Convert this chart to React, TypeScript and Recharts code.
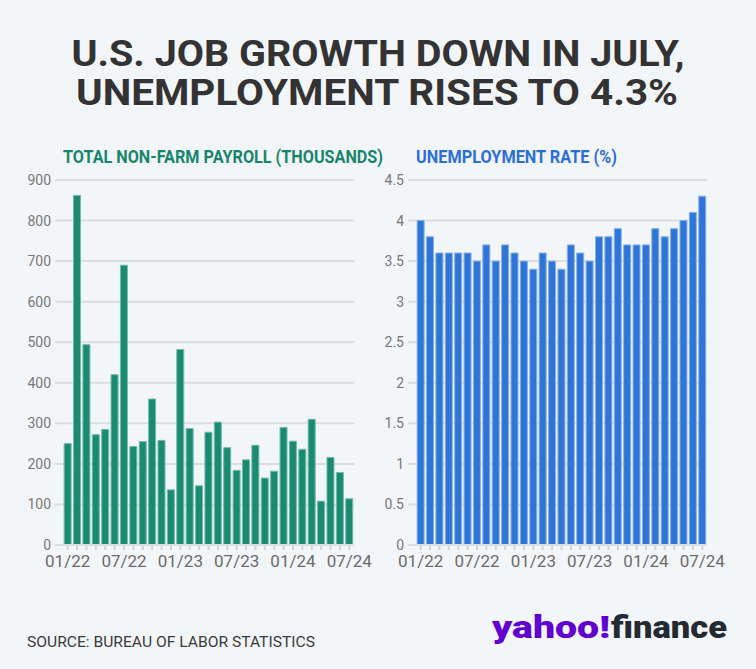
import { BarChart, Bar, XAxis, YAxis, CartesianGrid } from 'recharts'

const months = [
  '01/22', '02/22', '03/22', '04/22', '05/22', '06/22', '07/22', '08/22', '09/22', '10/22', '11/22', '12/22',
  '01/23', '02/23', '03/23', '04/23', '05/23', '06/23', '07/23', '08/23', '09/23', '10/23', '11/23', '12/23',
  '01/24', '02/24', '03/24', '04/24', '05/24', '06/24', '07/24',
]
const payroll = [
  250, 862, 494, 272, 285, 420, 690, 243, 255, 360, 258, 136,
  482, 287, 146, 278, 303, 240, 184, 210, 246, 165, 182, 290,
  256, 236, 310, 108, 216, 179, 114,
]
const unemployment = [
  4.0, 3.8, 3.6, 3.6, 3.6, 3.6, 3.5, 3.7, 3.5, 3.7, 3.6, 3.5,
  3.4, 3.6, 3.5, 3.4, 3.7, 3.6, 3.5, 3.8, 3.8, 3.9, 3.7, 3.7,
  3.7, 3.9, 3.8, 3.9, 4.0, 4.1, 4.3,
]
const xLabels = ['01/22', '07/22', '01/23', '07/23', '01/24', '07/24']
const payrollTicks = [0, 100, 200, 300, 400, 500, 600, 700, 800, 900]
const rateTicks = [0, 0.5, 1, 1.5, 2, 2.5, 3, 3.5, 4, 4.5]

const payrollData = months.map((m, i) => ({ m, v: payroll[i] }))
const rateData = months.map((m, i) => ({ m, v: unemployment[i] }))

const font = 'Roboto, "Liberation Sans", sans-serif'

function MonthTick(props: any) {
  const { x, y, payload } = props
  if (!xLabels.includes(payload.value)) return null
  return (
    <text x={x} y={y + 15} textAnchor="middle" fontFamily={font} fontSize={17} fill="#6b6b6b">
      {payload.value}
    </text>
  )
}

function Panel({ data, ticks, domain, fill, stroke }: any) {
  return (
    <BarChart
      width={390}
      height={405}
      data={data}
      margin={{ top: 10, right: 36, bottom: 0, left: 0 }}
      barCategoryGap="12%"
    >
      <CartesianGrid vertical={false} stroke="#dddddd" strokeWidth={2} />
      <XAxis
        dataKey="m"
        interval={0}
        height={30}
        tickSize={5}
        axisLine={{ stroke: '#dddddd', strokeWidth: 2 }}
        tickLine={{ stroke: '#d4d4d4', strokeWidth: 2 }}
        tick={<MonthTick />}
      />
      <YAxis
        width={63}
        domain={domain}
        ticks={ticks}
        interval={0}
        axisLine={false}
        tickSize={8}
        tickMargin={4}
        tickLine={{ stroke: '#dddddd', strokeWidth: 2 }}
        tick={{ fill: '#777777', fontSize: 14, fontFamily: font }}
      />
      <Bar dataKey="v" fill={fill} stroke={stroke} strokeWidth={1} isAnimationActive={false} />
    </BarChart>
  )
}

export default function App() {
  return (
    <div style={{ position: 'absolute', left: 0, top: 0, width: 756, height: 669, background: '#f3f6f9', overflow: 'hidden' }}>
      <svg width={756} height={669} style={{ position: 'absolute', left: 0, top: 0 }}>
        <text x={378} y={66} textAnchor="middle" fontFamily={font} fontWeight={700} fontSize={36} fill="#333333"
          textLength={613} lengthAdjust="spacingAndGlyphs">U.S. JOB GROWTH DOWN IN JULY,</text>
        <text x={377} y={105} textAnchor="middle" fontFamily={font} fontWeight={700} fontSize={36} fill="#333333"
          textLength={602} lengthAdjust="spacingAndGlyphs">UNEMPLOYMENT RISES TO 4.3%</text>
        <text x={63} y={163} fontFamily={font} fontWeight={700} fontSize={19} fill="#17856c"
          textLength={320} lengthAdjust="spacingAndGlyphs">TOTAL NON-FARM PAYROLL (THOUSANDS)</text>
        <text x={416} y={163} fontFamily={font} fontWeight={700} fontSize={19} fill="#2b6fd6"
          textLength={201} lengthAdjust="spacingAndGlyphs">UNEMPLOYMENT RATE (%)</text>
        <text x={27} y={647} fontFamily={font} fontSize={15} fill="#3a3a3a"
          textLength={288} lengthAdjust="spacingAndGlyphs">SOURCE: BUREAU OF LABOR STATISTICS</text>
        <text x={492} y={638} fontFamily={font} fontWeight={900} fontSize={31} fill="#6001d2"
          textLength={118} lengthAdjust="spacingAndGlyphs">yahoo!</text>
        <text x={611} y={638} fontFamily={font} fontWeight={900} fontSize={31} fill="#232a31"
          textLength={116} lengthAdjust="spacingAndGlyphs">finance</text>
      </svg>
      <div style={{ position: 'absolute', left: 0, top: 170 }}>
        <Panel data={payrollData} ticks={payrollTicks} domain={[0, 900]} fill="#1b8a72" stroke="#74bba9" />
      </div>
      <div style={{ position: 'absolute', left: 353, top: 170 }}>
        <Panel data={rateData} ticks={rateTicks} domain={[0, 4.5]} fill="#2f74d7" stroke="#86b0ec" />
      </div>
    </div>
  )
}
